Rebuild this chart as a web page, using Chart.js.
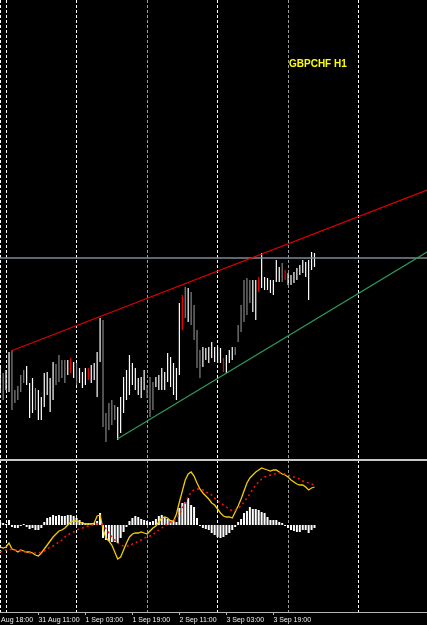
<!DOCTYPE html>
<html>
<head>
<meta charset="utf-8">
<title>GBPCHF H1</title>
<script src="https://cdn.jsdelivr.net/npm/chart.js@4.4.1/dist/chart.umd.min.js"></script>
<style>
  html, body { margin: 0; padding: 0; background: #000; overflow: hidden; }
  canvas { display: block; }
</style>
</head>
<body>
<canvas id="price" width="427" height="458"></canvas>
<canvas id="macd" width="427" height="167"></canvas>
<script>
// GBPCHF H1 bar chart with MACD-style sub window

const symbol = 'GBPCHF H1';

// time axis: bar index of each label
const tickBars = [-3, 13, 29, 45, 61, 77, 93];
const tickLabels = ['30 Aug 18:00', '31 Aug 11:00', '1 Sep 03:00', '1 Sep 19:00', '2 Sep 11:00', '3 Sep 03:00', '3 Sep 19:00'];
// vertical grid / separators, bar index
const gridBars = [0.2, 2, 26, 50, 74, 98, 122];

// price bars
const highs = [
  1.2492, 1.2487, 1.2490, 1.2508, 1.2510, 1.2470, 1.2474, 1.2485, 1.2490, 1.2494,
  1.2477, 1.2482, 1.2472, 1.2470, 1.2463, 1.2487, 1.2488, 1.2482, 1.2498, 1.2496,
  1.2505, 1.2500, 1.2500, 1.2500, 1.2502, 1.2498, 1.2497, 1.2492, 1.2488, 1.2492,
  1.2492, 1.2495, 1.2497, 1.2508, 1.2542, 1.2540, 1.2447, 1.2457, 1.2460, 1.2455,
  1.2453, 1.2463, 1.2483, 1.2490, 1.2505, 1.2497, 1.2492, 1.2482, 1.2483, 1.2490,
  1.2475, 1.2483, 1.2478, 1.2483, 1.2485, 1.2492, 1.2488, 1.2507, 1.2503, 1.2497,
  1.2492, 1.2557, 1.2565, 1.2573, 1.2572, 1.2568, 1.2555, 1.2530, 1.2510, 1.2513,
  1.2512, 1.2513, 1.2518, 1.2513, 1.2513, 1.2512, 1.2502, 1.2505, 1.2510, 1.2513,
  1.2513, 1.2535, 1.2555, 1.2580, 1.2582, 1.2580, 1.2580, 1.2580, 1.2583, 1.2607,
  1.2583, 1.2582, 1.2580, 1.2580, 1.2600, 1.2593, 1.2597, 1.2590, 1.2587, 1.2585,
  1.2588, 1.2592, 1.2595, 1.2600, 1.2598, 1.2600, 1.2608, 1.2607
];
const lows = [
  1.2467, 1.2460, 1.2470, 1.2468, 1.2450, 1.2457, 1.2460, 1.2468, 1.2477, 1.2475,
  1.2442, 1.2447, 1.2450, 1.2440, 1.2440, 1.2453, 1.2465, 1.2448, 1.2460, 1.2475,
  1.2478, 1.2482, 1.2477, 1.2485, 1.2487, 1.2482, 1.2475, 1.2477, 1.2472, 1.2475,
  1.2480, 1.2477, 1.2480, 1.2463, 1.2498, 1.2433, 1.2418, 1.2430, 1.2435, 1.2440,
  1.2420, 1.2427, 1.2447, 1.2460, 1.2465, 1.2475, 1.2470, 1.2465, 1.2462, 1.2470,
  1.2462, 1.2443, 1.2450, 1.2473, 1.2470, 1.2470, 1.2470, 1.2478, 1.2473, 1.2465,
  1.2460, 1.2485, 1.2530, 1.2542, 1.2538, 1.2535, 1.2520, 1.2492, 1.2482, 1.2493,
  1.2500, 1.2497, 1.2502, 1.2498, 1.2497, 1.2497, 1.2488, 1.2487, 1.2497, 1.2500,
  1.2505, 1.2518, 1.2528, 1.2538, 1.2545, 1.2557, 1.2548, 1.2540, 1.2568, 1.2572,
  1.2570, 1.2570, 1.2567, 1.2565, 1.2578, 1.2578, 1.2578, 1.2580, 1.2575, 1.2575,
  1.2577, 1.2580, 1.2585, 1.2587, 1.2583, 1.2560, 1.2590, 1.2593
];
// w = up bar, g = down bar, r = marked bar
const kinds = [
  'w','g','w','w','g','g','g','g','g','w',
  'w','w','g','w','w','w','w','w','w','g',
  'g','g','g','w','r','w','g','w','w','w',
  'r','w','w','w','w','g','g','g','g','g',
  'w','w','w','w','w','w','w','w','w','w',
  'g','g','g','w','w','w','w','w','w','w',
  'w','w','r','g','w','g','g','g','g','w',
  'w','w','w','w','w','w','r','w','w','w',
  'g','g','g','g','g','g','w','w','r','w',
  'w','w','w','w','w','w','g','r','w','w',
  'w','w','w','w','w','w','w','w'
];

// objects on the price window: [bar, price]
const upperLine = [[3.68, 1.2509], [145.3, 1.2670]];
const lowerLine = [[39.86, 1.2421], [145.3, 1.2608]];
const levelPrice = 1.2602;

// sub window, in points
const histogram = [
  3, 2, 1, 5, -2, -3, -3, -1, 1, -2,
  -4, -3, -5, -5, -3, 3, 7, 8, 10, 9,
  10, 9, 9, 10, 10, 9, 7, 5, 3, 2,
  2, 2, 2, 4, 12, -13, -15, -16, -17, -17,
  -18, -13, -7, -2, 4, 7, 9, 8, 6, 5,
  4, 3, 4, 6, 9, 10, 8, 6, 5, 4,
  3, 17, 22, 23, 27, 20, 18, 7, -1, -3,
  -4, -5, -8, -10, -12, -13, -12, -10, -8, -5,
  -2, 3, 6, 12, 14, 18, 16, 16, 15, 13,
  12, 8, 5, 5, 5, 3, 2, -1, -3, -5,
  -6, -7, -7, -5, -5, -8, -5, -3
];
const mainLine = [
  -22, -23, -22, -18, -24, -25, -27, -25, -26, -27,
  -27, -28, -30, -31, -28, -24, -20, -16, -12, -9,
  -6, -5, -3, 0, 3, 4, 4, 3, 2, 1,
  1, 1, 2, 9, 10, -4, -13, -16, -20, -27,
  -34, -32, -25, -18, -12, -9, -8, -8, -7, -8,
  -9, -6, -3, -1, 3, 7, 8, 7, 4, 4,
  11, 23, 34, 45, 51, 53, 49, 42, 36, 32,
  29, 26, 22, 20, 16, 12, 9, 8, 8, 7,
  13, 19, 26, 34, 42, 47, 50, 53, 55, 57,
  56, 55, 54, 55, 55, 53, 51, 50, 48, 45,
  43, 41, 40, 40, 38, 35, 37, 38
];
const signalLine = [
  -27, -26, -25, -25, -24, -25, -25, -26, -27, -27,
  -28, -28, -28, -28, -27, -26, -24, -22, -21, -19,
  -17, -15, -12, -10, -8, -7, -5, -4, -3, -2,
  -1, 0, 0, 1, 1, 0, -4, -8, -12, -15,
  -18, -20, -21, -21, -21, -19, -18, -16, -15, -13,
  -12, -11, -10, -7, -5, -3, -1, 2, 3, 4,
  7, 11, 17, 22, 28, 33, 35, 36, 36, 35,
  33, 32, 30, 27, 24, 22, 20, 18, 16, 14,
  15, 17, 19, 23, 27, 31, 36, 40, 43, 46,
  48, 49, 50, 51, 51, 52, 52, 51, 50, 49,
  48, 47, 46, 44, 43, 42, 41, 40
];

// view window
const xMin = -0.07, xMax = 145.3;
const barColors = { w: '#ffffff', g: '#858585', r: '#ff0000' };
const gridColors = ['#ffffff', '#ffffff', '#ffffff', '#9c9c9c', '#ffffff', '#9c9c9c', '#ffffff'];

const idx = highs.map(function(_, i) { return i; });
const toPoints = function(pairs) {
    return pairs.map(function(p) { return { x: p[0], y: p[1] }; });
};

// keep every axis from reserving room for labels
const noPadding = function(scale, height) {
    scale.height = height;
    scale.paddingLeft = 0;
    scale.paddingRight = 0;
};

const gridAxis = {
    type: 'linear',
    position: 'bottom',
    min: xMin,
    max: xMax,
    bounds: 'data',
    offset: false,
    afterBuildTicks: function(scale) {
        scale.ticks = gridBars.map(function(v) { return { value: v }; });
    },
    afterFit: function(scale) { noPadding(scale, 0); },
    ticks: { display: false },
    grid: {
        offset: false,
        drawTicks: false,
        lineWidth: 1,
        color: function(ctx) { return gridColors[ctx.index] || '#ffffff'; }
    },
    border: { display: false, dash: [3, 2] }
};

// symbol caption in the upper window
const captionPlugin = {
    id: 'caption',
    afterDraw: function(chart) {
        const c = chart.ctx;
        c.save();
        c.font = 'bold 10px "Liberation Sans", Arial, sans-serif';
        c.fillStyle = '#ffff00';
        c.textBaseline = 'middle';
        c.textAlign = 'left';
        c.fillText(symbol, chart.chartArea.left + 289, chart.chartArea.top + 64);
        c.restore();
    }
};

const baseOptions = {
    responsive: false,
    animation: false,
    devicePixelRatio: 1,
    layout: { padding: 0 },
    events: [],
    plugins: {
        legend: { display: false },
        tooltip: { enabled: false }
    }
};

new Chart(document.getElementById('price'), {
    type: 'bar',
    data: {
        datasets: [
            {
                type: 'line',
                data: toPoints(upperLine),
                borderColor: '#e00000',
                borderWidth: 1.2,
                pointRadius: 0,
                order: 1
            },
            {
                type: 'line',
                data: toPoints(lowerLine),
                borderColor: '#2f9a5a',
                borderWidth: 1.2,
                pointRadius: 0,
                order: 1
            },
            {
                type: 'line',
                data: [{ x: xMin, y: levelPrice }, { x: xMax, y: levelPrice }],
                borderColor: '#7e8a97',
                borderWidth: 1.5,
                pointRadius: 0,
                order: 2
            },
            {
                type: 'bar',
                data: idx.map(function(i) { return { x: i, y: [lows[i], highs[i]] }; }),
                backgroundColor: idx.map(function(i) { return barColors[kinds[i]]; }),
                borderWidth: 0,
                barThickness: 1.2,
                inflateAmount: 0,
                order: 3
            }
        ]
    },
    options: Object.assign({}, baseOptions, {
        scales: {
            x: gridAxis,
            y: { display: false, min: 1.2402, max: 1.2860 }
        }
    }),
    plugins: [captionPlugin]
});

new Chart(document.getElementById('macd'), {
    type: 'bar',
    data: {
        datasets: [
            {
                type: 'line',
                data: idx.map(function(i) { return { x: i, y: signalLine[i] }; }),
                borderColor: '#ff1010',
                borderWidth: 1.5,
                borderDash: [2, 3],
                pointRadius: 0,
                order: 1
            },
            {
                type: 'line',
                data: idx.map(function(i) { return { x: i, y: mainLine[i] }; }),
                borderColor: '#f2cc00',
                borderWidth: 1.3,
                pointRadius: 0,
                order: 2
            },
            {
                type: 'bar',
                data: idx.map(function(i) { return { x: i, y: histogram[i] }; }),
                backgroundColor: '#ffffff',
                borderWidth: 0,
                barThickness: 2,
                inflateAmount: 0,
                order: 3
            }
        ]
    },
    options: Object.assign({}, baseOptions, {
        scales: {
            x: {
                type: 'linear',
                position: 'bottom',
                min: xMin,
                max: xMax,
                bounds: 'data',
                offset: false,
                afterBuildTicks: function(scale) {
                    scale.ticks = tickBars.map(function(v) { return { value: v }; });
                },
                afterFit: function(scale) { noPadding(scale, 13); },
                ticks: {
                    autoSkip: false,
                    maxRotation: 0,
                    minRotation: 0,
                    align: 'start',
                    padding: 1,
                    color: '#f0f0f0',
                    font: { family: '"Liberation Sans", Arial, sans-serif', size: 7 },
                    callback: function(v) { return tickLabels[tickBars.indexOf(v)]; }
                },
                grid: { offset: false, drawOnChartArea: false, drawTicks: true, tickLength: 3, color: '#b4b4b4' },
                border: { display: true, color: '#b4b4b4', width: 1 }
            },
            xg: gridAxis,
            xs: {
                type: 'linear',
                position: 'top',
                min: xMin,
                max: xMax,
                offset: false,
                afterFit: function(scale) { noPadding(scale, 2); },
                ticks: { display: false },
                grid: { display: false, drawTicks: false },
                border: { display: true, color: '#c8c8c8', width: 2 }
            },
            y: { display: false, min: -87, max: 65 }
        }
    })
});
</script>
</body>
</html>
